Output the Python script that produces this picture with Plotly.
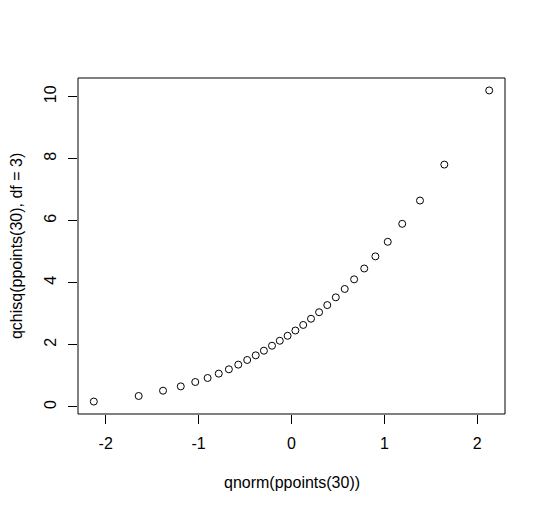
import plotly.graph_objects as go

x_vals = [-2.128, -1.645, -1.383, -1.192, -1.036, -0.903, -0.783, -0.674, -0.573, -0.477,
          -0.385, -0.297, -0.210, -0.126, -0.042, 0.042, 0.126, 0.210, 0.297, 0.385,
          0.477, 0.573, 0.674, 0.783, 0.903, 1.036, 1.192, 1.383, 1.645, 2.128]
y_vals = [0.17, 0.35, 0.52, 0.66, 0.80, 0.93, 1.07, 1.21, 1.36, 1.51,
          1.66, 1.81, 1.97, 2.13, 2.29, 2.46, 2.64, 2.84, 3.05, 3.28,
          3.53, 3.80, 4.11, 4.46, 4.85, 5.32, 5.90, 6.65, 7.81, 10.20]
x_ticks = [-2, -1, 0, 1, 2]
y_ticks = [0, 2, 4, 6, 8, 10]
x_title = "qnorm(ppoints(30))"
y_title = "qchisq(ppoints(30), df = 3)"

FONT = "Liberation Sans, Arial, sans-serif"

fig = go.Figure()
fig.add_trace(go.Scatter(
    x=x_vals, y=y_vals, mode="markers",
    marker=dict(symbol="circle-open", size=7, color="black", line=dict(width=1, color="black")),
    showlegend=False, hoverinfo="skip"))

xr = (min(x_vals), max(x_vals))
yr = (min(y_vals), max(y_vals))
xpad = 0.04 * (xr[1] - xr[0])
ypad = 0.04 * (yr[1] - yr[0])

axis_common = dict(showgrid=False, zeroline=False, showline=False,
                   ticks="outside", ticklen=9, tickwidth=1, tickcolor="black",
                   tickfont=dict(family=FONT, size=16, color="black"))

fig.update_layout(
    width=546, height=512,
    margin=dict(l=78, r=41, t=78, b=98, pad=0),
    paper_bgcolor="white", plot_bgcolor="white",
    font=dict(family=FONT, size=16, color="black"),
    xaxis=dict(range=[xr[0] - xpad, xr[1] + xpad], tickvals=x_ticks,
               ticktext=[str(v) for v in x_ticks], ticklabelstandoff=6, **axis_common),
    yaxis=dict(range=[yr[0] - ypad, yr[1] + ypad], tickvals=y_ticks,
               ticktext=[str(v) for v in y_ticks], tickangle=-90,
               ticklabelstandoff=6, **axis_common),
    shapes=[dict(type="rect", xref="paper", yref="paper", x0=0, y0=0, x1=1, y1=1,
                 line=dict(color="black", width=1), fillcolor="rgba(0,0,0,0)")],
    annotations=[
        dict(text=x_title, xref="paper", yref="paper", x=0.5, y=-0.2024,
             xanchor="center", yanchor="middle", showarrow=False,
             font=dict(family=FONT, size=16, color="black")),
        dict(text=y_title, xref="paper", yref="paper", x=-0.145, y=0.5,
             xanchor="center", yanchor="middle", textangle=-90, showarrow=False,
             font=dict(family=FONT, size=16, color="black")),
    ],
)

fig.write_html("out.html", config={"displayModeBar": False, "staticPlot": True},
               post_script="document.body.style.margin='0';document.body.style.overflow='hidden';")
